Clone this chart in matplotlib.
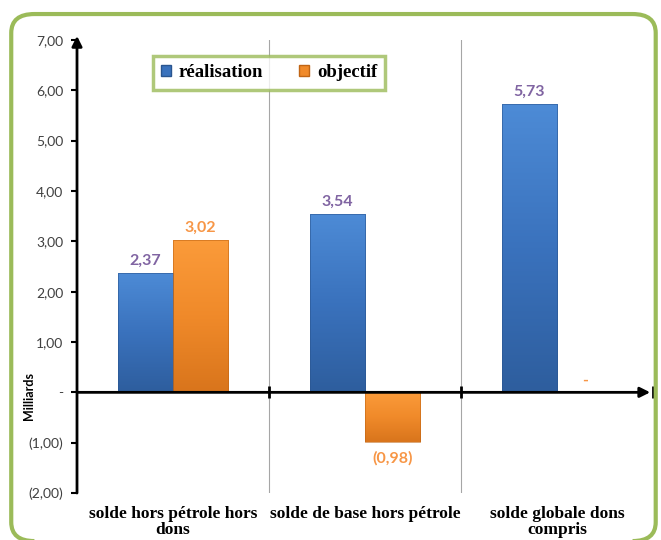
import numpy as np
import matplotlib.pyplot as plt
from matplotlib.patches import FancyBboxPatch, Patch
from matplotlib.colors import LinearSegmentedColormap

# categories and series
categories = ['solde hors pétrole hors\ndons', 'solde de base hors pétrole', 'solde globale dons\ncompris']
realisation = [2.37, 3.54, 5.73]
objectif = [3.02, -0.98, 0.0]
yticks = [-2, -1, 0, 1, 2, 3, 4, 5, 6, 7]


def fmt(v):
    if v == 0:
        return '-'
    s = '{:.2f}'.format(abs(v)).replace('.', ',')
    return '(' + s + ')' if v < 0 else s


blue_cm = LinearSegmentedColormap.from_list('b', ['#4d8bd6', '#3a72bd', '#2e5e9e'])
orange_cm = LinearSegmentedColormap.from_list('o', ['#fb9b3a', '#f08a2a', '#d9751c'])

fig = plt.figure(figsize=(6.61, 5.40), dpi=100)
ax = fig.add_axes([0.1165, 0.087, 0.8715, 0.839])

# rounded green frame around the chart (bottom edge runs along the figure border)
frame = FancyBboxPatch((0.017, -0.002), 0.975, 0.976, boxstyle='round,pad=0,rounding_size=0.035',
                       transform=fig.transFigure, fill=False, edgecolor='#9bbb59', linewidth=3,
                       zorder=0)
fig.patches.append(frame)

x = np.arange(len(categories)) + 0.5
w = 0.287
grad = np.linspace(0, 1, 100).reshape(-1, 1)


def draw_bars(xs, vals, cmap, edge):
    bars = ax.bar(xs, vals, w, color='none', edgecolor=edge, linewidth=0.4, zorder=3)
    for b, v in zip(bars, vals):
        if v == 0:
            continue
        x0 = b.get_x()
        y0, y1 = sorted([0, v])
        im = ax.imshow(grad, cmap=cmap, aspect='auto', extent=[x0, x0 + w, y0, y1],
                       origin='upper', zorder=2)
        im.set_clip_path(b)
    return bars


draw_bars(x - w / 2, realisation, blue_cm, '#2a558f')
draw_bars(x + w / 2, objectif, orange_cm, '#c06515')

for xi, v in zip(x - w / 2, realisation):
    ax.text(xi, v + 0.1, fmt(v), ha='center', va='bottom', fontsize=11.5, fontweight='bold',
            color='#8064a2', family='Lato')
for xi, v in zip(x + w / 2, objectif):
    off = 0.1 if v >= 0 else -0.18
    ax.text(xi, v + off, fmt(v), ha='center', va='bottom' if v >= 0 else 'top',
            fontsize=11.5, fontweight='bold', color='#f79646', family='Lato')

ax.set_xlim(0, 3)
ax.set_ylim(-2, 7)
ax.set_autoscale_on(False)

# separators between categories
for b in range(1, len(categories)):
    ax.axvline(b, color='#a6a6a6', linewidth=0.8, zorder=1)

for s in ax.spines.values():
    s.set_visible(False)

# axis arrows
arrow = dict(arrowstyle='-|>,head_length=0.6,head_width=0.3', color='black',
             lw=2, shrinkA=0, shrinkB=0)
ax.annotate('', xy=(0, 7.08), xytext=(0, -2), xycoords='data', arrowprops=arrow,
            zorder=5, annotation_clip=False)
ax.annotate('', xy=(2.985, 0), xytext=(0, 0), xycoords='data', arrowprops=arrow,
            zorder=5, annotation_clip=False)
ax.plot(np.arange(1, len(categories) + 1), np.zeros(len(categories)), linestyle='none',
        marker='|', markersize=9, markeredgewidth=2, color='black', zorder=5, clip_on=False)

ax.set_yticks(yticks)
ax.set_yticklabels([fmt(t) for t in yticks], fontsize=10, color='#404040', family='Lato')
ax.tick_params(axis='y', direction='out', length=4, width=1.5, pad=6)
ax.set_xticks(x)
ax.set_xticklabels(categories, fontsize=12.5, fontweight='bold', family='Liberation Serif',
                   linespacing=1.05)
ax.tick_params(axis='x', length=0, pad=9)
ax.set_ylabel('Milliards', fontsize=9, fontweight='bold', family='Lato')
ax.yaxis.set_label_coords(-0.073, 0.214)

handles = [Patch(facecolor='#3a72bd', edgecolor='#2a558f'),
           Patch(facecolor='#f08a2a', edgecolor='#c06515')]
leg = fig.legend(handles, ['réalisation', 'objectif'], loc='center', bbox_to_anchor=(0.407, 0.865),
                 ncol=2, frameon=True, fancybox=False, handlelength=0.55, handleheight=0.55,
                 handletextpad=0.4, columnspacing=1.9, borderpad=0.45,
                 prop=dict(family='Liberation Serif', weight='bold', size=13.5))
leg.get_frame().set_edgecolor('#9bbb59')
leg.get_frame().set_linewidth(2.5)

fig.savefig('out.png', dpi=100)
